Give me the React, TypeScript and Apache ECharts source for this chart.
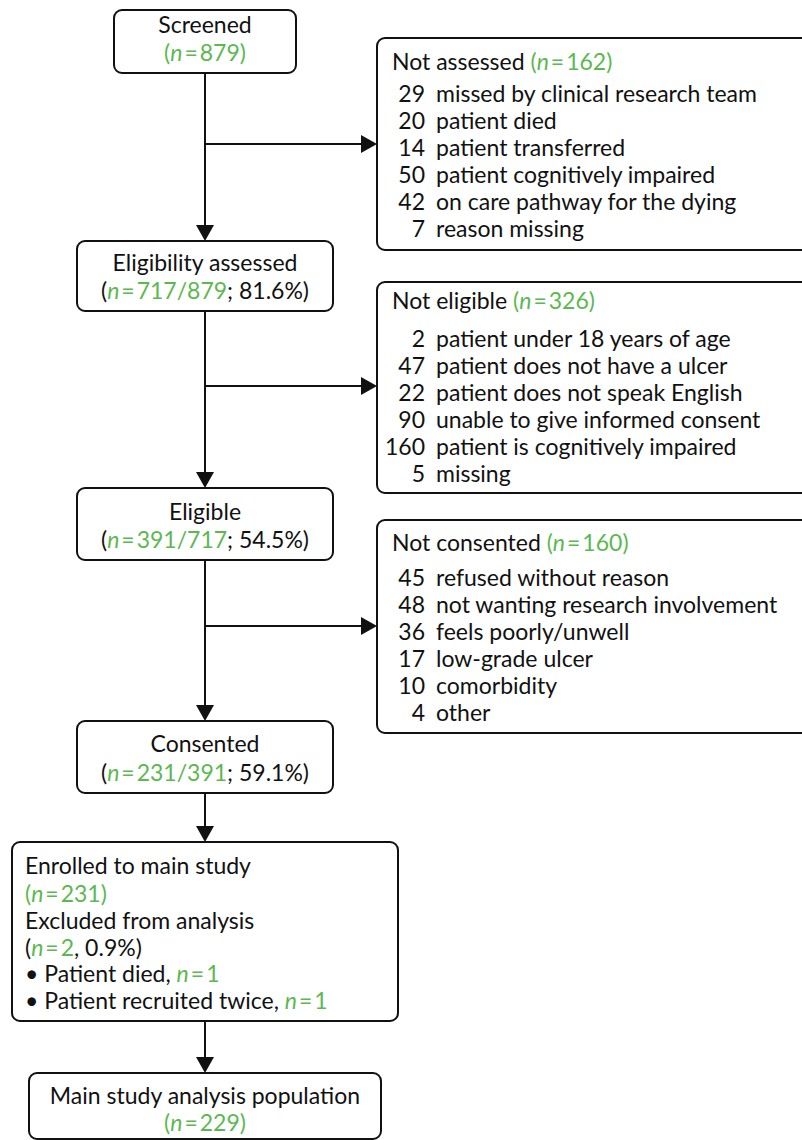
import React, { useEffect, useRef } from "react";
import * as echarts from "echarts";

// ---- Data ----
const screenedN = 879;
const assessedN = 717;
const assessedPct = "81.6%";
const eligibleN = 391;
const eligiblePct = "54.5%";
const consentedN = 231;
const consentedPct = "59.1%";
const enrolledN = 231;
const excludedN = 2;
const excludedPct = "0.9%";
const excludedReasons = ["Patient died, ", "Patient recruited twice, "];
const excludedCounts = [1, 1];
const analysedN = 229;

const notAssessedTotal = 162;
const notAssessedCounts = [29, 20, 14, 50, 42, 7];
const notAssessedReasons = [
  "missed by clinical research team",
  "patient died",
  "patient transferred",
  "patient cognitively impaired",
  "on care pathway for the dying",
  "reason missing",
];

const notEligibleTotal = 326;
const notEligibleCounts = [2, 47, 22, 90, 160, 5];
const notEligibleReasons = [
  "patient under 18 years of age",
  "patient does not have a ulcer",
  "patient does not speak English",
  "unable to give informed consent",
  "patient is cognitively impaired",
  "missing",
];

const notConsentedTotal = 160;
const notConsentedCounts = [45, 48, 36, 17, 10, 4];
const notConsentedReasons = [
  "refused without reason",
  "not wanting research involvement",
  "feels poorly/unwell",
  "low-grade ulcer",
  "comorbidity",
  "other",
];

// ---- Styling ----
const GREEN = "#5cb851";
const FONT_FAMILY = "Lato, sans-serif";
const FS = 23;
const LH = 24;
const LINE_H = 27;

const rich = {
  k: { fill: "#111", fontSize: FS, fontFamily: FONT_FAMILY, lineHeight: LH },
  g: { fill: GREEN, fontSize: FS, fontFamily: FONT_FAMILY, lineHeight: LH },
  gi: { fill: GREEN, fontSize: FS, fontFamily: FONT_FAMILY, fontStyle: "italic", lineHeight: LH },
  geq: { fill: GREEN, fontSize: FS, fontFamily: FONT_FAMILY, padding: [0, 2, 0, 2], lineHeight: LH },
};

const nEq = (v: number | string) => `{gi|n}{geq|=}{g|${v}}`;

function text(x: number, y: number, t: string, align: string = "left") {
  return {
    type: "text",
    x,
    y,
    style: {
      text: t,
      rich,
      fontSize: FS,
      lineHeight: LH,
      fontFamily: FONT_FAMILY,
      fill: "#111",
      textAlign: align,
      textVerticalAlign: "middle",
    },
  };
}

function box(x: number, y: number, w: number, h: number) {
  return {
    type: "rect",
    shape: { x, y, width: w, height: h, r: 8 },
    style: { fill: "#fff", stroke: "#111", lineWidth: 2 },
  };
}

function vArrow(x: number, y1: number, y2: number) {
  return [
    { type: "line", shape: { x1: x, y1, x2: x, y2: y2 - 14 }, style: { stroke: "#111", lineWidth: 2 } },
    {
      type: "polygon",
      shape: { points: [[x - 9, y2 - 16], [x + 9, y2 - 16], [x, y2]] },
      style: { fill: "#111" },
    },
  ];
}

function hArrow(x1: number, x2: number, y: number) {
  return [
    { type: "line", shape: { x1, y1: y, x2: x2 - 14, y2: y }, style: { stroke: "#111", lineWidth: 2 } },
    {
      type: "polygon",
      shape: { points: [[x2 - 16, y - 9], [x2 - 16, y + 9], [x2, y]] },
      style: { fill: "#111" },
    },
  ];
}

function sideBox(top: number, bottom: number, title: string, total: number, counts: number[], reasons: string[], titleY: number, firstY: number) {
  const els: any[] = [box(377, top, 440, bottom - top)];
  els.push(text(392, titleY, `{k|${title} }{g|(}${nEq(total)}{g|)}`));
  counts.forEach((c, i) => {
    const y = firstY + i * LINE_H;
    els.push(text(425, y, `{k|${c}}`, "right"));
    els.push(text(436, y, `{k|${reasons[i]}}`));
  });
  return els;
}

function buildGraphic() {
  const CX = 205;
  const els: any[] = [];

  // connectors (under boxes)
  els.push(...vArrow(CX, 73, 241));
  els.push(...hArrow(CX, 377, 144));
  els.push(...vArrow(CX, 311, 488));
  els.push(...hArrow(CX, 377, 386));
  els.push(...vArrow(CX, 560, 721));
  els.push(...hArrow(CX, 377, 626));
  els.push(...vArrow(CX, 793, 842));
  els.push(...vArrow(CX, 1021, 1073));

  // main boxes
  els.push(box(114, 10, 182, 63));
  els.push(text(CX, 24, "{k|Screened}", "center"));
  els.push(text(CX, 52, `{g|(}${nEq(screenedN)}{g|)}`, "center"));

  els.push(box(77, 241, 256, 70));
  els.push(text(CX, 262, "{k|Eligibility assessed}", "center"));
  els.push(text(CX, 290, `{k|(}${nEq(`${assessedN}/${screenedN}`)}{k|; ${assessedPct})}`, "center"));

  els.push(box(77, 488, 256, 72));
  els.push(text(CX, 511, "{k|Eligible}", "center"));
  els.push(text(CX, 539, `{k|(}${nEq(`${eligibleN}/${assessedN}`)}{k|; ${eligiblePct})}`, "center"));

  els.push(box(77, 721, 256, 72));
  els.push(text(CX, 743, "{k|Consented}", "center"));
  els.push(text(CX, 772, `{k|(}${nEq(`${consentedN}/${eligibleN}`)}{k|; ${consentedPct})}`, "center"));

  els.push(box(12, 842, 386, 179));
  els.push(text(25, 865, "{k|Enrolled to main study}"));
  els.push(text(25, 893, `{g|(}${nEq(enrolledN)}{g|)}`));
  els.push(text(25, 920, "{k|Excluded from analysis}"));
  els.push(text(25, 947, `{k|(}${nEq(excludedN)}{k|, ${excludedPct})}`));
  excludedReasons.forEach((r, i) => {
    els.push(text(25, 973 + i * 27, `{k|\u2022 ${r}}${nEq(excludedCounts[i])}`));
  });

  els.push(box(29, 1073, 352, 66));
  els.push(text(CX, 1095, "{k|Main study analysis population}", "center"));
  els.push(text(CX, 1122, `{g|(}${nEq(analysedN)}{g|)}`, "center"));

  // side boxes
  els.push(...sideBox(38, 250, "Not assessed", notAssessedTotal, notAssessedCounts, notAssessedReasons, 61, 93));
  els.push(...sideBox(282, 493, "Not eligible", notEligibleTotal, notEligibleCounts, notEligibleReasons, 300, 338));
  els.push(...sideBox(520, 733, "Not consented", notConsentedTotal, notConsentedCounts, notConsentedReasons, 542, 577));

  return els;
}

export default function App() {
  const ref = useRef<HTMLDivElement>(null);
  useEffect(() => {
    if (!ref.current) return;
    const chart = echarts.init(ref.current, undefined, { renderer: "svg" });
    chart.setOption({
      animation: false,
      backgroundColor: "#fff",
      graphic: { elements: buildGraphic() },
    });
    return () => chart.dispose();
  }, []);
  return (
    <div
      ref={ref}
      style={{ position: "absolute", left: 0, top: 0, width: 802, height: 1140, background: "#fff" }}
    />
  );
}
